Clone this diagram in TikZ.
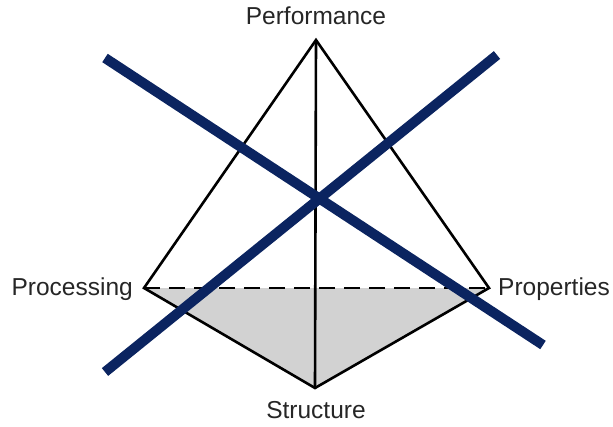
\documentclass[tikz,border=0pt]{standalone}
\usepackage{fontspec}
\setmainfont{Liberation Sans}
\begin{document}
\begin{tikzpicture}[x=1pt,y=-1pt,
  edge/.style={black,line width=2.6pt},
  cross/.style={color={rgb,255:red,11;green,36;blue,96},line width=10pt},
  lbl/.style={font=\fontsize{24.5}{28}\selectfont,inner sep=0pt,text=black!85}]
\useasboundingbox (0,0) rectangle (613,426);
\coordinate (top) at (316,40);
\coordinate (left) at (144,288);
\coordinate (right) at (489,288);
\coordinate (bot) at (315,388);
\fill[gray!35] (left) -- (right) -- (bot) -- cycle;
\draw[edge,dashed,dash pattern=on 16pt off 9pt] (left) -- (right);
\draw[edge,line join=miter] (left) -- (top) -- (right) -- (bot) -- cycle;
\draw[edge] (top) -- (bot);
\node[lbl] (perf) at (316,16) {Performance};
\node[lbl,anchor=east] (proc) at (133,289) {Processing};
\node[lbl,anchor=west] (prop) at (498,289) {Properties};
\node[lbl] (stru) at (316,410) {Structure};
\coordinate (a1) at (105,58);
\coordinate (a2) at (543,345);
\coordinate (b1) at (105,372);
\coordinate (b2) at (497,55);
\draw[cross] (a1) -- (a2);
\draw[cross] (b1) -- (b2);
\end{tikzpicture}
\end{document}
